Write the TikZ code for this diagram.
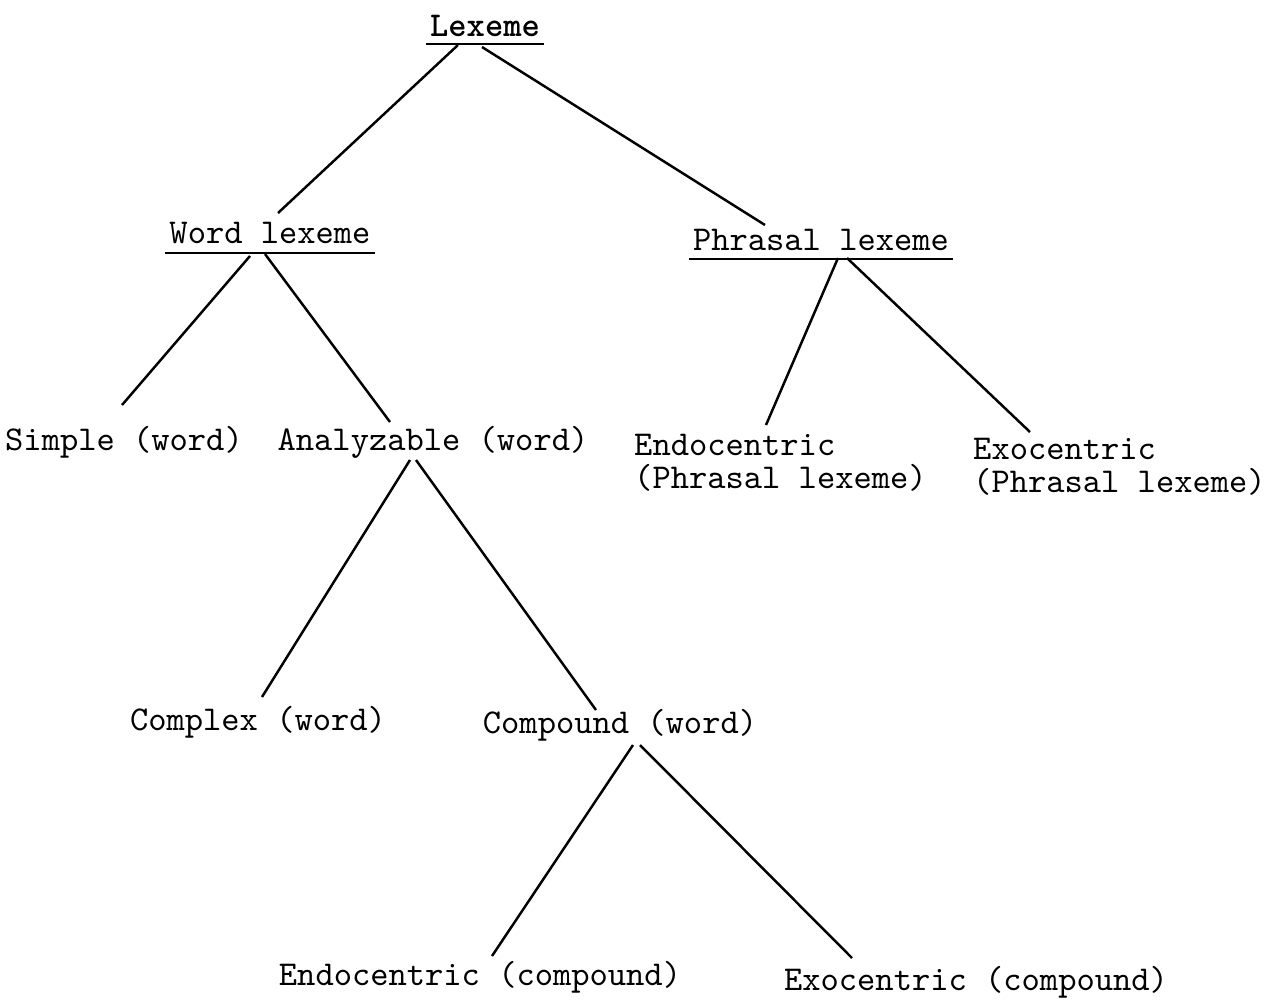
\documentclass[tikz,border=0pt]{standalone}
\usetikzlibrary{calc}

\begin{document}
\begin{tikzpicture}[x=0.01cm,y=-0.01cm,line width=0.7pt,
    every node/.style={inner sep=0pt,font=\ttfamily\fontsize{9.9}{9.4}\selectfont},
    lbl/.style={anchor=base},
    twoline/.style={anchor=north west,align=left}]
    
    % white page, same size as the scan
    \useasboundingbox[fill=white] (0,0) rectangle (1266,1002);
    
    % top
    \node[lbl,font=\ttfamily\bfseries\fontsize{9.9}{9.4}\selectfont] (lex) at (485,36) {Lexeme};
    
    % second level
    \node[lbl] (wordlex) at (270,243) {Word lexeme};
    \node[lbl] (phrlex) at (821,250) {Phrasal lexeme};
    
    % underlines
    \draw ($(lex.base west)+(-3,8)$) -- ($(lex.base east)+(3,8)$);
    \draw ($(wordlex.base west)+(-3,10)$) -- ($(wordlex.base east)+(3,10)$);
    \draw ($(phrlex.base west)+(-3,9)$) -- ($(phrlex.base east)+(3,9)$);
    
    % third level
    \node[lbl] (simple) at (124,450) {Simple (word)};
    \node[lbl] (analyz) at (433,450) {Analyzable (word)};
    \node[twoline] (endophr) at (633,433) {Endocentric\\(Phrasal lexeme)};
    \node[twoline] (exophr) at (972,437) {Exocentric\\(Phrasal lexeme)};
    
    % fourth level
    \node[lbl] (complex) at (258,730) {Complex (word)};
    \node[lbl] (compound) at (620,733) {Compound (word)};
    
    % bottom
    \node[lbl] (endocomp) at (480,985) {Endocentric (compound)};
    \node[lbl] (exocomp) at (976,990) {Exocentric (compound)};
    
    % branches
    \draw ($(lex.base)+(-27,9)$) -- ($(wordlex.base)+(8,-30)$);
    \draw ($(lex.base)+(-3,11)$) -- ($(phrlex.base)+(-56,-25)$);
    
    \draw ($(wordlex.base)+(-20,13)$) -- ($(simple.base)+(-2,-45)$);
    \draw ($(wordlex.base)+(-5,11)$) -- ($(analyz.base)+(-43,-28)$);
    
    \draw ($(phrlex.base)+(17,8)$) -- ($(endophr.north west)+(133,-8)$);
    \draw ($(phrlex.base)+(26,8)$) -- ($(exophr.north west)+(58,-5)$);
    
    \draw ($(analyz.base)+(-23,10)$) -- ($(complex.base)+(4,-33)$);
    \draw ($(analyz.base)+(-17,10)$) -- ($(compound.base)+(-24,-23)$);
    
    \draw ($(compound.base)+(13,12)$) -- ($(endocomp.base)+(12,-29)$);
    \draw ($(compound.base)+(20,12)$) -- ($(exocomp.base)+(-124,-32)$);
    
\end{tikzpicture}
\end{document}
